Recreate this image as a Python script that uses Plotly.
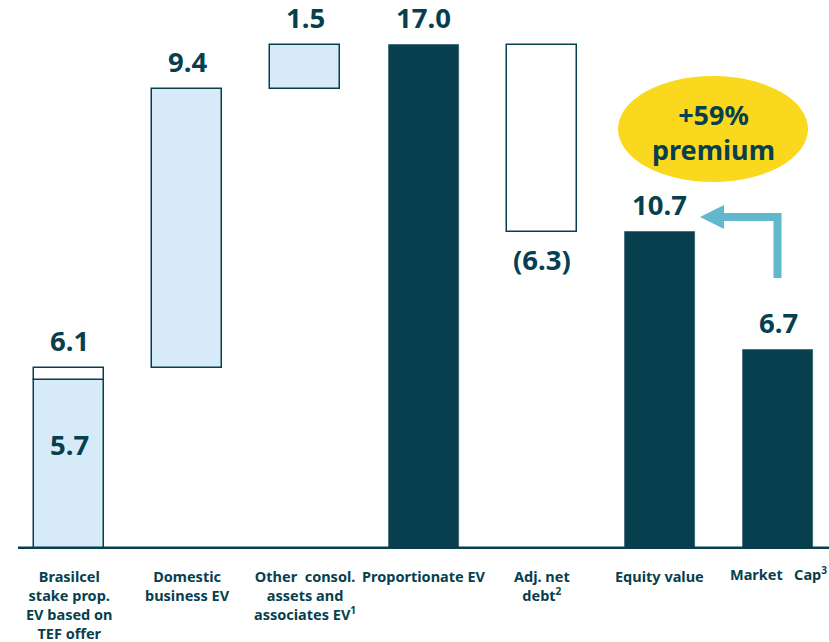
import plotly.graph_objects as go

# ---------------- data ----------------
categories = [
    "Brasilcel<br>stake prop.<br>EV based on<br>TEF offer",
    "Domestic<br>business EV",
    "Other\u00a0 consol.<br>assets and<br>associates EV<sup>1</sup>",
    "Proportionate EV",
    "Adj. net<br>debt<sup>2</sup>",
    "Equity value",
    "Market\u00a0\u00a0 Cap<sup>3</sup>",
]
stake_market = 5.7        # light-blue part of first bar
stake_offer = 6.1         # total of first bar (TEF offer)
domestic_ev = 9.4
other_ev = 1.5
proportionate_ev = 17.0
adj_net_debt = -6.3
equity_value = 10.7
market_cap = 6.7
premium_label = "+59%<br>premium"

DARK = "#073F4F"
LIGHT = "#D6EAF8"
YELLOW = "#F9D81E"
ARROW = "#62B8CE"
FONT = "Noto Sans"

W, H = 829, 642
ML, MB, MT, MR = 18, 93, 0, 0
X0_PX, DX_PX = 69.0, 118.17           # centre of first bar, spacing
x_lo = (ML - X0_PX) / DX_PX
x_hi = (W - MR - X0_PX) / DX_PX
Y0_PX, Y17_PX = 549.0, 45.0
ppu = (Y0_PX - Y17_PX) / 17.0
y_hi = (H - MB - MT) / ppu


def px2x(px):
    return (px - X0_PX) / DX_PX


def px2y(py):
    return (Y0_PX - py) / ppu


bw = 70 / DX_PX
idx = list(range(len(categories)))

fig = go.Figure()

# light blue bars (build-up)
dom_base = stake_offer
oth_base = stake_offer + domestic_ev
fig.add_trace(go.Bar(
    x=[0, 1, 2], y=[stake_market, domestic_ev, other_ev],
    base=[0, dom_base, oth_base], width=bw,
    marker=dict(color=LIGHT, line=dict(color=DARK, width=1.5)),
    hoverinfo="skip", showlegend=False))

# white boxes (offer increment, net debt)
eq_base = proportionate_ev + adj_net_debt
fig.add_trace(go.Bar(
    x=[0, 4], y=[stake_offer - stake_market, -adj_net_debt],
    base=[stake_market, eq_base], width=bw,
    marker=dict(color="white", line=dict(color=DARK, width=1.5)),
    hoverinfo="skip", showlegend=False))

# dark totals
fig.add_trace(go.Bar(
    x=[3, 5, 6], y=[proportionate_ev, equity_value, market_cap], width=bw,
    marker=dict(color=DARK, line=dict(color="#2E5D6A", width=0.8)),
    hoverinfo="skip", showlegend=False))

# baseline
fig.add_shape(type="line", xref="paper", yref="y", x0=0, x1=1, y0=0, y1=0,
              line=dict(color=DARK, width=5), layer="above")

vfont = dict(family=FONT, size=27.5, color=DARK)
val_labels = [
    (0, stake_offer, "6.1", "bottom", 7),
    (0, stake_market * 0.62, "5.7", "middle", 0),
    (1, oth_base, "9.4", "bottom", 7),
    (2, proportionate_ev, "1.5", "bottom", 7),
    (3, proportionate_ev, "17.0", "bottom", 7),
    (4, eq_base, "(6.3)", "top", -7),
    (5, equity_value, "10.7", "bottom", 7),
    (6, market_cap, "6.7", "bottom", 7),
]
for xi, yv, txt, ya, ys in val_labels:
    fig.add_annotation(x=xi, y=yv, text="<b>%s</b>" % txt, showarrow=False,
                       xref="x", yref="y", yanchor=ya, yshift=ys, font=vfont)

# category labels
label_shift = [-15, -15, -15, -15, -15, -15, -12]
for xi, c, ls in zip(idx, categories, label_shift):
    fig.add_annotation(x=xi, y=0, xref="x", yref="y", text="<b>%s</b>" % c,
                       showarrow=False, yanchor="top", yshift=ls,
                       font=dict(family=FONT, size=14.5, color=DARK))

# premium ellipse
fig.add_shape(type="circle", xref="x", yref="y",
              x0=px2x(618), x1=px2x(808), y0=px2y(182), y1=px2y(76),
              fillcolor=YELLOW, line=dict(width=0), layer="above")
fig.add_annotation(x=px2x(713), y=px2y(132), xref="x", yref="y",
                   text="<b>%s</b>" % premium_label, showarrow=False,
                   font=dict(family=FONT, size=27, color=DARK))

# arrow (market cap -> equity value)
fig.add_shape(type="path", xref="x", yref="y",
              path="M %f %f L %f %f L %f %f" % (
                  px2x(777.5), px2y(278), px2x(777.5), px2y(217),
                  px2x(720), px2y(217)),
              line=dict(color=ARROW, width=8), layer="above")
fig.add_shape(type="path", xref="x", yref="y",
              path="M %f %f L %f %f L %f %f Z" % (
                  px2x(700), px2y(217), px2x(724), px2y(205),
                  px2x(724), px2y(229)),
              fillcolor=ARROW, line=dict(color=ARROW, width=0), layer="above")

fig.update_layout(
    width=W, height=H,
    margin=dict(l=ML, r=MR, t=MT, b=MB),
    paper_bgcolor="white", plot_bgcolor="white",
    barmode="overlay", bargap=0,
    xaxis=dict(range=[x_lo, x_hi], visible=False, fixedrange=True),
    yaxis=dict(range=[0, y_hi], visible=False, fixedrange=True),
    showlegend=False,
)

fig.write_html("out.html")
